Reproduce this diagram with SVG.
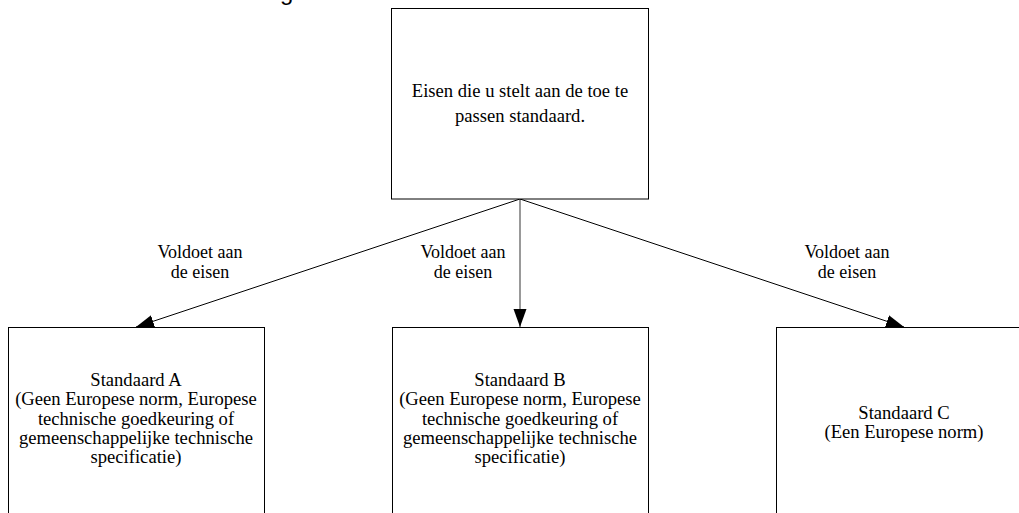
<svg xmlns="http://www.w3.org/2000/svg" width="1019" height="513" viewBox="0 0 1019 513">
<style>
.box{fill:#fff;stroke:#000;stroke-width:1}
.t{font-family:"Liberation Serif","Times New Roman",serif;font-size:18.6px;fill:#000;text-anchor:middle}
.lbl{font-family:"Liberation Serif","Times New Roman",serif;font-size:18px;fill:#000;text-anchor:middle}
.c{fill:none;stroke:#000;stroke-width:1}
.v{fill:none;stroke:#555;stroke-width:1.2}
</style>
<defs>
<marker id="ah" markerUnits="userSpaceOnUse" markerWidth="20" markerHeight="14" refX="18" refY="6.5" orient="auto">
<path d="M0,0 L18,6.5 L0,13 Z" fill="#000"/>
</marker>
</defs>
<rect width="1019" height="513" fill="#fff"/>
<text x="280" y="0" style="font-family:'Liberation Sans',Arial,sans-serif;font-size:24px;fill:#000">g</text>
<g id="connectors">
<line class="c" x1="520" y1="199" x2="136" y2="327" marker-end="url(#ah)"/>
<line class="v" x1="520" y1="199" x2="520" y2="327" marker-end="url(#ah)"/>
<line class="c" x1="520" y1="199" x2="904" y2="327" marker-end="url(#ah)"/>
<text class="lbl" x="200" y="258">Voldoet aan</text>
<text class="lbl" x="200" y="278">de eisen</text>
<text class="lbl" x="463" y="258">Voldoet aan</text>
<text class="lbl" x="463" y="278">de eisen</text>
<text class="lbl" x="847" y="258">Voldoet aan</text>
<text class="lbl" x="847" y="278">de eisen</text>
</g>
<g id="eisen">
<rect class="box" x="391.5" y="8.5" width="257" height="190.5"/>
<text class="t" x="520" y="97">Eisen die u stelt aan de toe te</text>
<text class="t" x="520" y="122">passen standaard.</text>
</g>
<g id="standaardA">
<rect class="box" x="8.5" y="327.5" width="256" height="200"/>
<text class="t" x="136" y="386">Standaard A</text>
<text class="t" x="136" y="405.3">(Geen Europese norm, Europese</text>
<text class="t" x="136" y="424.5">technische goedkeuring of</text>
<text class="t" x="136" y="443.8">gemeenschappelijke technische</text>
<text class="t" x="136" y="463">specificatie)</text>
</g>
<g id="standaardB">
<rect class="box" x="392.5" y="327.5" width="256" height="200"/>
<text class="t" x="520" y="386">Standaard B</text>
<text class="t" x="520" y="405.3">(Geen Europese norm, Europese</text>
<text class="t" x="520" y="424.5">technische goedkeuring of</text>
<text class="t" x="520" y="443.8">gemeenschappelijke technische</text>
<text class="t" x="520" y="463">specificatie)</text>
</g>
<g id="standaardC">
<rect class="box" x="776.5" y="327.5" width="256" height="200"/>
<text class="t" x="904" y="418.5">Standaard C</text>
<text class="t" x="904" y="438.3">(Een Europese norm)</text>
</g>
</svg>
